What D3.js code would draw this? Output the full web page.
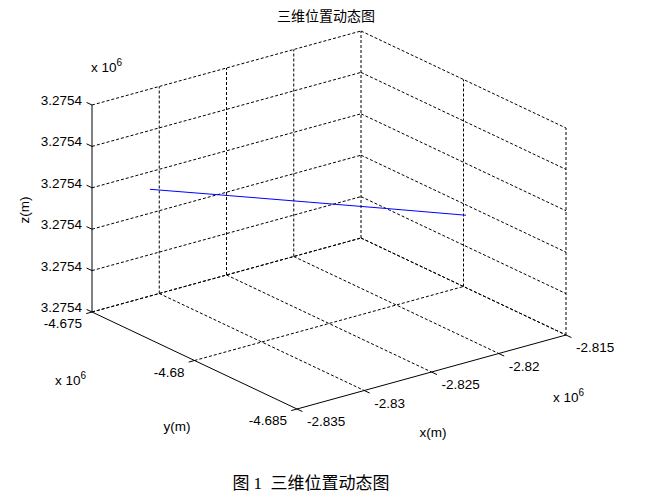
<!DOCTYPE html>
<html>
<head>
<meta charset="utf-8">
<script src="https://cdn.jsdelivr.net/npm/d3@7/dist/d3.min.js"></script>
<style>
  html, body { margin: 0; padding: 0; background: #fff; }
  text { font-family: Arial, "Liberation Sans", sans-serif; fill: #000; }
</style>
</head>
<body>
<svg id="chart" width="660" height="502"></svg>
<script>
// ---- data ----
const xTicks = [-2835000, -2830000, -2825000, -2820000, -2815000];
const yTicks = [-4675000, -4680000, -4685000];
const zTicks = [3275410, 3275412, 3275414, 3275416, 3275418, 3275420];
const xTickLabels = ["-2.835", "-2.83", "-2.825", "-2.82", "-2.815"];
const yTickLabels = ["-4.675", "-4.68", "-4.685"];
const zTickLabels = ["3.2754", "3.2754", "3.2754", "3.2754", "3.2754", "3.2754"];
// trajectory (m)
const trackX = [-2832220, -2829100, -2826000, -2823000, -2819940];
const trackY = [-4676000, -4677850, -4679700, -4681500, -4683360];
const trackZ = [3275415.9, 3275415.9, 3275415.9, 3275415.9, 3275415.9];

const titleText = "三维位置动态图";
const captionText = "图 1  三维位置动态图";

// ---- projection ----
const svg = d3.select("#chart");
const origin = [92, 312];        // (xmin, ymax-side, zmin) screen point
const vx = [269, -74];           // full x range
const vy = [205, 97];            // full y range
const vz = [0, -207];            // full z range

const sx = d3.scaleLinear().domain([xTicks[0], xTicks[xTicks.length - 1]]).range([0, 1]);
const sy = d3.scaleLinear().domain([yTicks[0], yTicks[yTicks.length - 1]]).range([0, 1]);
const sz = d3.scaleLinear().domain([zTicks[0], zTicks[zTicks.length - 1]]).range([0, 1]);

function P(x, y, z) {
  const a = sx(x), b = sy(y), c = sz(z);
  return [origin[0] + a * vx[0] + b * vy[0] + c * vz[0],
          origin[1] + a * vx[1] + b * vy[1] + c * vz[1]];
}
const x0 = xTicks[0], x1 = xTicks[xTicks.length - 1];
const y0 = yTicks[0], y1 = yTicks[yTicks.length - 1];
const z0 = zTicks[0], z1 = zTicks[zTicks.length - 1];

const line = d3.line();
const grid = svg.append("g").attr("fill", "none").attr("stroke", "#000")
  .attr("stroke-width", 1).attr("stroke-dasharray", "3,2");

function seg(g, a, b) { g.append("path").attr("d", line([a, b])); }

// back-left wall (y = y0)
zTicks.forEach(z => seg(grid, P(x0, y0, z), P(x1, y0, z)));
xTicks.slice(1).forEach(x => seg(grid, P(x, y0, z0), P(x, y0, z1)));
// back-right wall (x = x1)
zTicks.forEach(z => seg(grid, P(x1, y0, z), P(x1, y1, z)));
yTicks.slice(1).forEach(y => seg(grid, P(x1, y, z0), P(x1, y, z1)));
// floor (z = z0)
xTicks.slice(1).forEach(x => seg(grid, P(x, y0, z0), P(x, y1, z0)));
yTicks.slice(0, -1).forEach(y => seg(grid, P(x0, y, z0), P(x1, y, z0)));

// solid axes
const ax = svg.append("g").attr("fill", "none").attr("stroke", "#000").attr("stroke-width", 1);
seg(ax, P(x0, y0, z0), P(x0, y0, z1));   // z axis
seg(ax, P(x0, y0, z0), P(x0, y1, z0));   // y axis
seg(ax, P(x0, y1, z0), P(x1, y1, z0));   // x axis

// ticks
const tl = 6;
function unit(v) { const n = Math.hypot(v[0], v[1]); return [v[0] / n, v[1] / n]; }
const uy = unit(vy), ux = unit(vx);
zTicks.forEach(z => { const p = P(x0, y0, z); seg(ax, p, [p[0] - uy[0] * tl, p[1] - uy[1] * tl]); });
yTicks.forEach(y => { const p = P(x0, y, z0); seg(ax, p, [p[0] - ux[0] * tl, p[1] - ux[1] * tl]); });
xTicks.forEach(x => { const p = P(x, y1, z0); seg(ax, p, [p[0] + uy[0] * tl, p[1] + uy[1] * tl]); });

// trajectory
const pts = trackX.map((x, i) => P(x, trackY[i], trackZ[i]));
svg.append("path").attr("d", line(pts)).attr("fill", "none")
  .attr("stroke", "#0000ff").attr("stroke-width", 1);

// tick labels
const fs = 13.5;
zTicks.forEach((z, i) => {
  const p = P(x0, y0, z);
  svg.append("text").attr("x", p[0] - 10).attr("y", p[1]).attr("text-anchor", "end")
    .attr("font-size", fs).text(zTickLabels[i]);
});
yTicks.forEach((y, i) => {
  const p = P(x0, y, z0);
  svg.append("text").attr("x", p[0] - 10).attr("y", p[1] + 16).attr("text-anchor", "end")
    .attr("font-size", fs).text(yTickLabels[i]);
});
xTicks.forEach((x, i) => {
  const p = P(x, y1, z0);
  svg.append("text").attr("x", p[0] + 10).attr("y", p[1] + 17).attr("text-anchor", "start")
    .attr("font-size", fs).text(xTickLabels[i]);
});

// exponent labels
function expLabel(x, y) {
  const t = svg.append("text").attr("x", x).attr("y", y).attr("font-size", fs);
  t.append("tspan").text("x 10");
  t.append("tspan").attr("dy", -6).attr("font-size", 10).text("6");
}
expLabel(91, 72);
expLabel(55, 385);
expLabel(553, 402);

// axis labels
svg.append("text").attr("transform", "translate(29,210) rotate(-90)")
  .attr("text-anchor", "middle").attr("font-size", fs).text("z(m)");
svg.append("text").attr("x", 177).attr("y", 431).attr("text-anchor", "middle")
  .attr("font-size", fs).text("y(m)");
svg.append("text").attr("x", 433).attr("y", 437).attr("text-anchor", "middle")
  .attr("font-size", fs).text("x(m)");

// title
svg.append("text").attr("x", 326).attr("y", 21).attr("text-anchor", "middle")
  .attr("font-size", 14).style("font-family", "'Noto Sans CJK SC', sans-serif")
  .text(titleText);

// caption
svg.append("text").attr("x", 311).attr("y", 489).attr("text-anchor", "middle")
  .attr("font-size", 17).style("font-family", "'Liberation Serif', 'Noto Sans CJK SC', serif")
  .style("white-space", "pre").attr("xml:space", "preserve")
  .text(captionText);
</script>
</body>
</html>
